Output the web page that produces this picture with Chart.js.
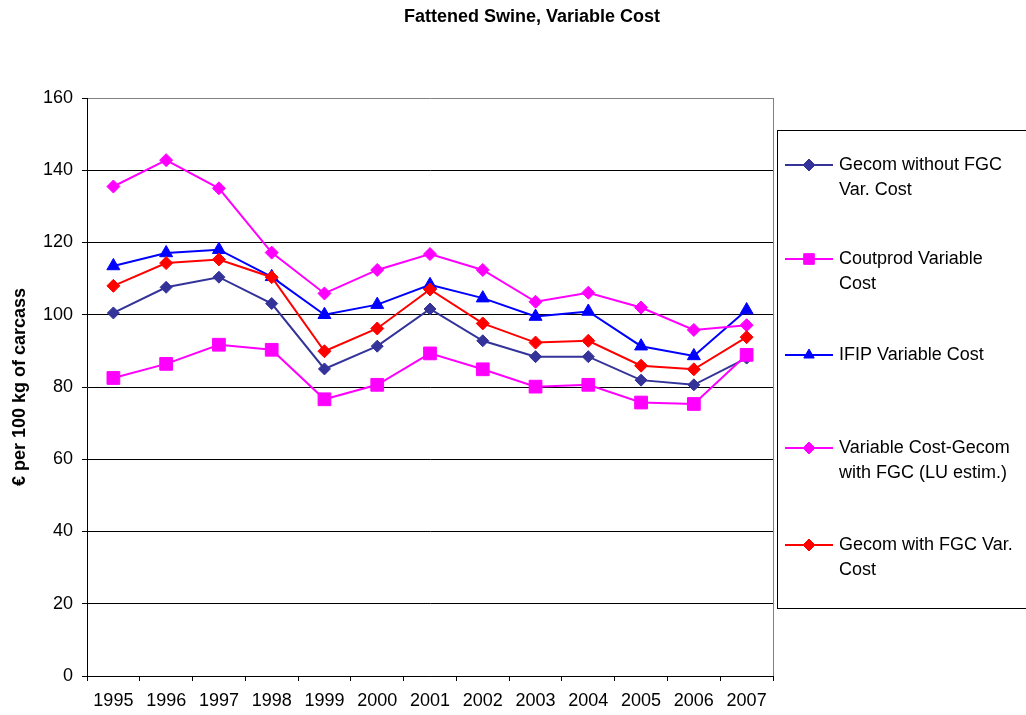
<!DOCTYPE html>
<html>
<head>
<meta charset="utf-8">
<script src="https://cdn.jsdelivr.net/npm/chart.js@4"></script>
<style>
  body { margin: 0; background: #fff; }
  canvas { display: block; }
</style>
</head>
<body>
<canvas id="myChart" width="1026" height="715"></canvas>
<script>
const years = ['1995', '1996', '1997', '1998', '1999', '2000', '2001', '2002', '2003', '2004', '2005', '2006', '2007'];

const gecomWithoutFgc = [100.5, 107.6, 110.4, 103.1, 85.0, 91.3, 101.6, 92.8, 88.4, 88.4, 81.9, 80.6, 88.0];
const coutprod = [82.5, 86.4, 91.7, 90.3, 76.6, 80.6, 89.3, 84.9, 80.1, 80.6, 75.7, 75.3, 88.9];
const ifip = [113.5, 117.1, 118.0, 110.5, 100.0, 102.8, 108.3, 104.6, 99.5, 100.9, 91.3, 88.6, 101.3];
const varCostGecomLu = [135.5, 142.8, 135.0, 117.2, 105.9, 112.4, 116.8, 112.4, 103.6, 106.1, 102.0, 95.8, 97.1];
const gecomWithFgc = [108.0, 114.3, 115.3, 110.4, 89.9, 96.2, 107.0, 97.6, 92.3, 92.8, 85.9, 84.9, 93.8];

const yTicks = [0, 20, 40, 60, 80, 100, 120, 140, 160];

// legend text, wrapped the same way as the boxed legend on the right
const legendLines = [
  ['Gecom without FGC', 'Var. Cost'],
  ['Coutprod Variable', 'Cost'],
  ['IFIP Variable Cost'],
  ['Variable Cost-Gecom', 'with FGC (LU estim.)'],
  ['Gecom with FGC Var.', 'Cost']
];
const legendRows = [165, 259, 355, 448, 545];

const FONT = "'Liberation Sans', Arial, sans-serif";

function series(label, values, color, style, radius, idx) {
  return {
    label: label,
    data: values,
    borderColor: color,
    backgroundColor: color,
    borderWidth: 2,
    pointStyle: style,
    pointRadius: radius,
    pointBorderWidth: 1,
    pointBackgroundColor: color,
    pointBorderColor: color,
    tension: 0,
    order: 5 - idx
  };
}

const datasets = [
  series('Gecom without FGC Var. Cost', gecomWithoutFgc, '#333399', 'rectRot', 6, 0),
  series('Coutprod Variable Cost', coutprod, '#FF00FF', 'rect', 9, 1),
  series('IFIP Variable Cost', ifip, '#0000FF', 'triangle', 7.5, 2),
  series('Variable Cost-Gecom with FGC (LU estim.)', varCostGecomLu, '#FF00FF', 'rectRot', 6.5, 3),
  series('Gecom with FGC Var. Cost', gecomWithFgc, '#FF0000', 'rectRot', 6.5, 4)
];

// title, plot frame and the boxed legend
const framePlugin = {
  id: 'frame',
  afterDraw(chart) {
    const ctx = chart.ctx;
    const area = chart.chartArea;
    ctx.save();

    ctx.fillStyle = '#000';
    ctx.font = 'bold 18px ' + FONT;
    ctx.textAlign = 'center';
    ctx.textBaseline = 'middle';
    ctx.fillText('Fattened Swine, Variable Cost', 532, 17);

    ctx.strokeStyle = '#808080';
    ctx.lineWidth = 1;
    ctx.beginPath();
    ctx.moveTo(Math.round(area.right) + 0.5, area.top);
    ctx.lineTo(Math.round(area.right) + 0.5, area.bottom);
    ctx.stroke();

    ctx.strokeStyle = '#000';
    ctx.strokeRect(777.5, 130.5, 300, 478);

    chart.data.datasets.forEach((ds, i) => {
      const y = legendRows[i];
      ctx.strokeStyle = ds.borderColor;
      ctx.fillStyle = ds.backgroundColor;
      ctx.lineWidth = 2;
      ctx.beginPath();
      ctx.moveTo(785, y);
      ctx.lineTo(833, y);
      ctx.stroke();
      ctx.lineWidth = 1;
      Chart.helpers.drawPoint(ctx, {
        pointStyle: ds.pointStyle,
        radius: ds.pointStyle === 'rect' ? 7.5 : 6,
        rotation: 0,
        borderWidth: 1
      }, 809, y);

      ctx.fillStyle = '#000';
      ctx.font = '18px ' + FONT;
      ctx.textAlign = 'left';
      ctx.textBaseline = 'middle';
      legendLines[i].forEach((line, j) => {
        ctx.fillText(line, 839, y + j * 25);
      });
    });
    ctx.restore();
  }
};

const config = {
  type: 'line',
  data: { labels: years, datasets: datasets },
  options: {
    responsive: false,
    animation: false,
    events: [],
    layout: { padding: { top: 98, right: 253, left: 0, bottom: 0 } },
    plugins: {
      legend: { display: false },
      title: { display: false },
      tooltip: { enabled: false }
    },
    scales: {
      x: {
        offset: true,
        afterFit: scale => { scale.height = 39; },
        grid: {
          offset: true,
          drawOnChartArea: false,
          tickLength: 5,
          color: '#000'
        },
        border: { color: '#000', width: 1 },
        ticks: {
          color: '#000',
          font: { family: FONT, size: 18 },
          padding: 9,
          maxRotation: 0,
          autoSkip: false
        }
      },
      y: {
        min: 0,
        max: 160,
        afterFit: scale => { scale.width = 87; },
        afterBuildTicks: scale => { scale.ticks = yTicks.map(v => ({ value: v })); },
        grid: {
          color: ctx => (ctx.tick && ctx.tick.value === 160 ? '#808080' : '#000'),
          tickColor: '#000',
          tickLength: 5
        },
        border: { color: '#000', width: 1 },
        ticks: {
          color: '#000',
          font: { family: FONT, size: 18 },
          padding: 9
        },
        title: {
          display: true,
          text: '€ per 100 kg of carcass',
          color: '#000',
          font: { family: FONT, size: 18, weight: 'bold' },
          padding: { top: 9, bottom: 0 }
        }
      }
    }
  },
  plugins: [framePlugin]
};

new Chart(document.getElementById('myChart'), config);
</script>
</body>
</html>
